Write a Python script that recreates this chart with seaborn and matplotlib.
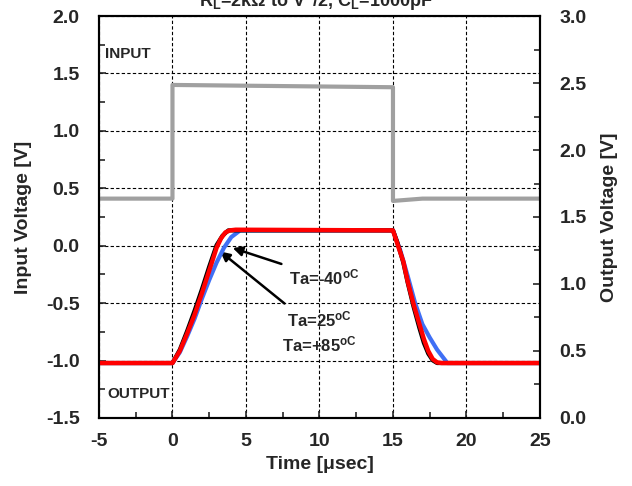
import matplotlib
matplotlib.use('Agg')
import matplotlib.pyplot as plt
import seaborn as sns
from matplotlib.ticker import MultipleLocator

# input waveform (left axis)
t_in = [-5, 0, 0, 15, 15, 17, 25]
v_in = [0.41, 0.41, 1.40, 1.38, 0.39, 0.41, 0.41]

# output waveforms (right axis)
t_m40 = [-5, 0, 0.5, 1, 1.5, 2, 2.5, 3, 3.5, 4, 4.6, 15, 15.5, 16, 16.5, 17, 17.5, 18, 18.7, 25]
v_m40 = [0.41, 0.41, 0.49, 0.61, 0.74, 0.89, 1.03, 1.16, 1.27, 1.35, 1.40, 1.40, 1.25, 1.06, 0.86, 0.70, 0.60, 0.51, 0.41, 0.41]

t_25 = [-5, 0, 0.5, 1, 1.5, 2, 2.5, 3, 3.4, 3.8, 15, 15.3, 15.7, 16, 16.4, 16.8, 17.1, 17.4, 17.7, 18.0, 25]
v_25 = [0.41, 0.41, 0.51, 0.65, 0.80, 0.96, 1.13, 1.29, 1.36, 1.40, 1.40, 1.31, 1.16, 1.01, 0.83, 0.67, 0.56, 0.48, 0.43, 0.41, 0.41]

t_85 = [-5, 0, 0.5, 1, 1.5, 2, 2.5, 3, 3.3, 3.6, 3.9, 4.3, 15, 15.3, 15.7, 16, 16.4, 16.8, 17.1, 17.4, 17.7, 18.0, 18.3, 25]
v_85 = [0.41, 0.41, 0.50, 0.63, 0.77, 0.93, 1.10, 1.27, 1.34, 1.385, 1.40, 1.405, 1.40, 1.30, 1.17, 1.02, 0.85, 0.70, 0.59, 0.50, 0.44, 0.415, 0.41, 0.41]

sns.set_style('ticks')
plt.rcParams['font.family'] = ['Liberation Sans', 'DejaVu Sans']
plt.rcParams['font.weight'] = 'bold'
plt.rcParams['mathtext.fontset'] = 'custom'
plt.rcParams['mathtext.rm'] = 'Liberation Sans:bold'
plt.rcParams['mathtext.bf'] = 'Liberation Sans:bold'
plt.rcParams['mathtext.it'] = 'Liberation Sans:bold'

fig = plt.figure(figsize=(6.32, 4.86), dpi=100)
ax = fig.add_axes([0.1566, 0.140, 0.6978, 0.827])
ax2 = ax.twinx()

sns.lineplot(x=t_in, y=v_in, ax=ax, color='#A0A0A0', lw=3, sort=False, estimator=None)
sns.lineplot(x=t_m40, y=v_m40, ax=ax2, color='#3F6FF5', lw=3, sort=False, estimator=None)
sns.lineplot(x=t_25, y=v_25, ax=ax2, color='black', lw=3, sort=False, estimator=None)
sns.lineplot(x=t_85, y=v_85, ax=ax2, color='#FF0000', lw=3.2, sort=False, estimator=None)

ax.set_xlim(-5, 25)
ax.set_ylim(-1.5, 2.0)
ax2.set_ylim(0, 3.0)
ax.xaxis.set_major_locator(MultipleLocator(5))
ax.xaxis.set_minor_locator(MultipleLocator(2.5))
ax.yaxis.set_major_locator(MultipleLocator(0.5))
ax.yaxis.set_minor_locator(MultipleLocator(0.25))
ax2.yaxis.set_major_locator(MultipleLocator(0.5))
ax2.yaxis.set_minor_locator(MultipleLocator(0.25))
ax.xaxis.set_major_formatter(lambda v, p: f'{v:.0f}')
ax.yaxis.set_major_formatter(lambda v, p: f'{v:.1f}')
ax2.yaxis.set_major_formatter(lambda v, p: f'{v:.1f}')

ax.grid(True, which='major', color='black', linestyle=(0, (3, 2)), lw=0.8)
for a in (ax, ax2):
    a.tick_params(which='both', direction='in', labelsize=14, width=1.2)
    a.tick_params(which='major', length=5)
    a.tick_params(which='minor', length=4)
    for s in a.spines.values():
        s.set_visible(True)
        s.set_linewidth(1.5)
        s.set_color('black')
ax.tick_params(axis='x', pad=11)
ax.tick_params(axis='y', pad=14)
ax2.tick_params(axis='y', pad=14)

ax.set_xlabel('Time [μsec]', fontsize=14, fontweight='bold', labelpad=4)
ax.set_ylabel('Input Voltage [V]', fontsize=14, fontweight='bold', labelpad=10)
ax2.set_ylabel('Output Voltage [V]', fontsize=14, fontweight='bold', labelpad=10)

ax.text(-4.6, 1.67, 'INPUT', fontsize=11, fontweight='bold', va='center')
ax.text(-4.4, -1.29, 'OUTPUT', fontsize=11, fontweight='bold', va='center')

ax.annotate('Ta=-40$^{\\mathrm{oC}}$', xy=(4.1, -0.02), xytext=(10.3, -0.28),
            fontsize=12, fontweight='bold', ha='center', va='center',
            arrowprops=dict(arrowstyle='-|>', color='black', lw=1.8,
                            shrinkA=3, shrinkB=0, mutation_scale=14))
ax.annotate('Ta=25$^{\\mathrm{oC}}$\nTa=+85$^{\\mathrm{oC}}$', xy=(3.25, -0.05), xytext=(10.0, -0.75),
            fontsize=12, fontweight='bold', ha='center', va='center', linespacing=1.3,
            arrowprops=dict(arrowstyle='-|>', color='black', lw=1.8,
                            shrinkA=3, shrinkB=0, mutation_scale=14))

fig.text(0.5, 0.997, 'R$_\\mathrm{L}$=2kΩ to V$^{+}$/2, C$_\\mathrm{L}$=1000pF',
         fontsize=13, fontweight='bold', ha='center', va='center')

plt.savefig('out.png', dpi=100)
